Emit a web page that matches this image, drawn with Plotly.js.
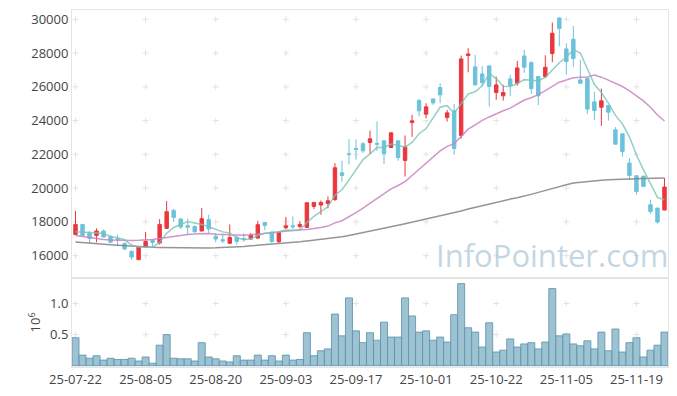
<!DOCTYPE html>
<html><head><meta charset="utf-8">
<script src="https://cdn.plot.ly/plotly-3.0.1.min.js"></script>
<style>html,body{margin:0;padding:0;background:#fff}#chart{width:677px;height:396px}</style>
</head><body><div id="chart"></div>
<script>
// Trading days (YY-MM-DD)
const dates = [
"25-07-22","25-07-23","25-07-24","25-07-25","25-07-28","25-07-29","25-07-30","25-07-31",
"25-08-01","25-08-04","25-08-05","25-08-06","25-08-07","25-08-08","25-08-11","25-08-12","25-08-13","25-08-14",
"25-08-18","25-08-19","25-08-20","25-08-21","25-08-22","25-08-25","25-08-26","25-08-27","25-08-28","25-08-29",
"25-09-01","25-09-02","25-09-03","25-09-04","25-09-05","25-09-08","25-09-09","25-09-10","25-09-11","25-09-12",
"25-09-15","25-09-16","25-09-17","25-09-18","25-09-19","25-09-22","25-09-23","25-09-24","25-09-25","25-09-26",
"25-09-29","25-09-30","25-10-01","25-10-02","25-10-10","25-10-13","25-10-14","25-10-15","25-10-16","25-10-17",
"25-10-20","25-10-21","25-10-22","25-10-23","25-10-24","25-10-27","25-10-28","25-10-29","25-10-30","25-10-31",
"25-11-03","25-11-04","25-11-05","25-11-06","25-11-07","25-11-10","25-11-11","25-11-12","25-11-13","25-11-14",
"25-11-17","25-11-18","25-11-19","25-11-20","25-11-21","25-11-24","25-11-25"];

const open  = [17260,17851,17343,17200,17461,17143,17000,16710,16254,15763,16513,16905,16751,17615,18681,18171,17774,17733,17461,18130,
17143,16950,16728,17083,17020,16986,17044,17970,17402,16830,17656,17774,17733,17675,18917,18999,19094,19330,20909,22033,
22348,22625,22703,22645,22802,22408,22802,21640,23884,25186,24380,25286,25955,24182,24577,23116,27850,27180,26765,27240,
25660,25464,26469,26212,27830,27436,26606,26606,27968,30078,28245,28817,26410,26508,25109,24794,24890,23453,23217,21483,
20732,20712,19017,18821,18703];
const high  = [18644,17870,17461,17615,17540,17222,17250,16790,16313,16552,17402,16930,18171,19235,18762,18230,18190,17774,18821,18425,
17340,17300,17852,17183,17340,17340,18070,17990,17420,17420,18289,18328,18053,19150,19175,19271,19508,21482,21619,22900,
22900,22726,23412,23950,22802,23314,22802,23117,24340,25286,25030,25300,26212,24636,24990,27850,28286,27890,27220,27240,
26606,26115,26706,27535,28185,27515,26620,27870,29806,30120,28580,29600,27595,26508,25700,25896,24890,23610,23217,21778,
20732,20712,19312,18821,20596];
const low   = [17240,17180,16751,16790,17090,16751,16560,16320,15763,15750,16500,16513,16651,17600,17993,17580,17242,17340,17450,17340,
16790,16750,16720,16651,16830,16946,16986,17520,16751,16728,17580,17580,17615,17660,18762,18425,18800,19235,20377,21400,
21679,22073,22013,22200,21423,22368,21620,20690,23039,24240,24143,24931,25030,23944,21975,22920,26862,26100,26016,24833,
25227,25187,25445,26055,26842,25582,24913,26530,27457,28400,26720,27180,26200,24400,24045,23690,24004,22590,21856,20495,
19608,20090,18485,17893,18690];
const close = [17851,17200,17025,17461,17104,16790,16950,16396,15921,16513,16846,16790,17851,18603,18266,17698,17680,17420,18190,17580,
16985,16870,17083,16846,16960,17222,17834,17793,16846,17360,17774,17715,17852,19135,19153,19153,19253,21205,20750,21990,
22289,22211,22920,22600,22033,23275,21813,22448,23985,24577,24813,25050,25522,24458,22348,27653,27948,26115,26252,26016,
26115,25660,26075,27121,27160,25896,25464,27160,29174,29450,27495,27672,26212,24680,24596,25168,24498,22605,22170,20750,
19803,20100,18620,17993,20063];

// Volume, in millions of shares
const volume = [0.45,0.17,0.12,0.16,0.09,0.12,0.10,0.10,0.12,0.075,0.14,0.04,0.33,0.50,0.12,0.11,0.11,0.075,0.37,0.14,
0.11,0.075,0.06,0.16,0.09,0.09,0.17,0.09,0.16,0.075,0.17,0.09,0.10,0.53,0.16,0.24,0.27,0.83,0.48,1.09,
0.56,0.37,0.53,0.41,0.70,0.46,0.46,1.09,0.80,0.54,0.56,0.41,0.46,0.38,0.82,1.32,0.61,0.54,0.30,0.69,
0.22,0.25,0.43,0.30,0.35,0.37,0.27,0.38,1.24,0.48,0.51,0.35,0.32,0.40,0.27,0.54,0.24,0.59,0.22,0.37,
0.45,0.14,0.25,0.33,0.54];

// Moving-average values before enough closes are visible
const ma5Head  = [17420,17390,17360,17340];
const ma20Head = [17190,17130,17060,17010,16960,16930,16910,16900,16900,16910,16930,16960,17020,17080,17150,17220,17260,17290,17305];
// Long moving average
const maLong = [16810,16770,16735,16700,16675,16650,16620,16590,16560,16530,16510,16500,16490,16480,16470,16465,16460,16455,16455,16460,
16470,16480,16500,16520,16550,16580,16610,16640,16670,16710,16750,16790,16830,16875,16920,16970,17020,17070,17120,17200,
17280,17360,17440,17530,17620,17710,17800,17890,17980,18070,18160,18260,18350,18450,18540,18650,18760,18860,18970,19080,
19190,19270,19350,19430,19510,19630,19750,19870,19990,20100,20200,20300,20350,20395,20430,20460,20490,20515,20537,20550,
20560,20570,20580,20590,20596];

const xTickIdx = [0,10,20,30,40,50,60,70,80];
const priceTicks = [16000,18000,20000,22000,24000,26000,28000,30000];
const volTicks = [0.5,1.0];

function rolling(n, head){
  return close.map((c,i)=>{
    if(i < n-1) return head[i];
    let s=0; for(let j=i-n+1;j<=i;j++) s+=close[j];
    return s/n;
  });
}
const ma5 = rolling(5, ma5Head);
const ma20 = rolling(20, ma20Head);

const tickDates = xTickIdx.map(i=>dates[i]);

// faint "+" grid marks at tick intersections, drawn below the data
const crossColor = '#e2e2e2';
const shapes = [];
function addCross(xi, yv, xr, yr){
  shapes.push({type:'line', layer:'below', xref:xr, yref:yr, xsizemode:'pixel', xanchor:xi, x0:-3, x1:3, y0:yv, y1:yv, line:{color:crossColor, width:1}});
  shapes.push({type:'line', layer:'below', xref:xr, yref:yr, ysizemode:'pixel', yanchor:yv, y0:-3, y1:3, x0:xi, x1:xi, line:{color:crossColor, width:1}});
}
xTickIdx.forEach(xi=>{
  priceTicks.forEach(p=>addCross(xi, p, 'x', 'y'));
  volTicks.forEach(v=>addCross(xi, v, 'x2', 'y2'));
});

const font = {family:'"Open Sans", "Noto Sans", sans-serif', size:13, color:'#444'};

const traces = [
 {type:'candlestick', x:dates, open:open, high:high, low:low, close:close, xaxis:'x', yaxis:'y',
  increasing:{line:{color:'#ea363e', width:1}, fillcolor:'#ea363e'},
  decreasing:{line:{color:'#6cc2da', width:1}, fillcolor:'#6cc2da'},
  whiskerwidth:0, showlegend:false},
 {type:'bar', x:dates, y:volume, xaxis:'x2', yaxis:'y2', marker:{color:'rgba(143,185,204,0.88)', line:{color:'rgba(95,148,175,0.85)', width:1}}, showlegend:false},
 {type:'scatter', mode:'lines', x:dates, y:maLong, xaxis:'x', yaxis:'y', line:{color:'rgba(130,130,130,0.85)', width:1.5}, showlegend:false},
 {type:'scatter', mode:'lines', x:dates, y:ma20, xaxis:'x', yaxis:'y', line:{color:'rgba(200,130,195,0.85)', width:1.5}, showlegend:false},
 {type:'scatter', mode:'lines', x:dates, y:ma5, xaxis:'x', yaxis:'y', line:{color:'rgba(120,195,180,0.8)', width:1.5}, showlegend:false}
];

const axLine = '#e4e4e4';
const layout = {
  width:677, height:396,
  margin:{l:72, r:9, t:10, b:29},
  paper_bgcolor:'#fff', plot_bgcolor:'#fff',
  font:font, showlegend:false, bargap:0,
  shapes:shapes,
  xaxis:{type:'category', categoryorder:'array', categoryarray:dates, range:[-0.5,84.5], domain:[0,1], anchor:'y',
         rangeslider:{visible:false}, showticklabels:false,
         showgrid:false, zeroline:false, showline:true, mirror:true, linecolor:axLine, ticks:''},
  yaxis:{domain:[0.25,1], anchor:'x', range:[14692,30550], tickvals:priceTicks, ticktext:priceTicks.map(String),
         showgrid:false, zeroline:false, showline:true, mirror:true, linecolor:axLine, ticks:'', tickfont:font},
  xaxis2:{type:'category', categoryorder:'array', categoryarray:dates, range:[-0.5,84.5], domain:[0,1], anchor:'y2',
         tickvals:tickDates, ticktext:tickDates,
         showgrid:false, zeroline:false, showline:true, mirror:true, linecolor:axLine, ticks:'', tickfont:font, tickangle:0},
  yaxis2:{domain:[0,0.25], anchor:'x2', range:[-0.021,1.414], tickvals:volTicks, ticktext:['0.5','1.0'],
         showgrid:false, zeroline:false, showline:true, mirror:true, linecolor:axLine, ticks:'', tickfont:font,
         title:{text:'10<sup>6</sup>', font:font, standoff:6}},
  annotations:[{text:'InfoPointer.com', xref:'paper', yref:'paper', x:0.805, y:0.315, xanchor:'center', yanchor:'middle',
    showarrow:false, font:{family:'"Open Sans", sans-serif', size:31, color:'rgba(160,192,210,0.65)'}}]
};
Plotly.newPlot('chart', traces, layout, {displayModeBar:false, staticPlot:true});
</script></body></html>
